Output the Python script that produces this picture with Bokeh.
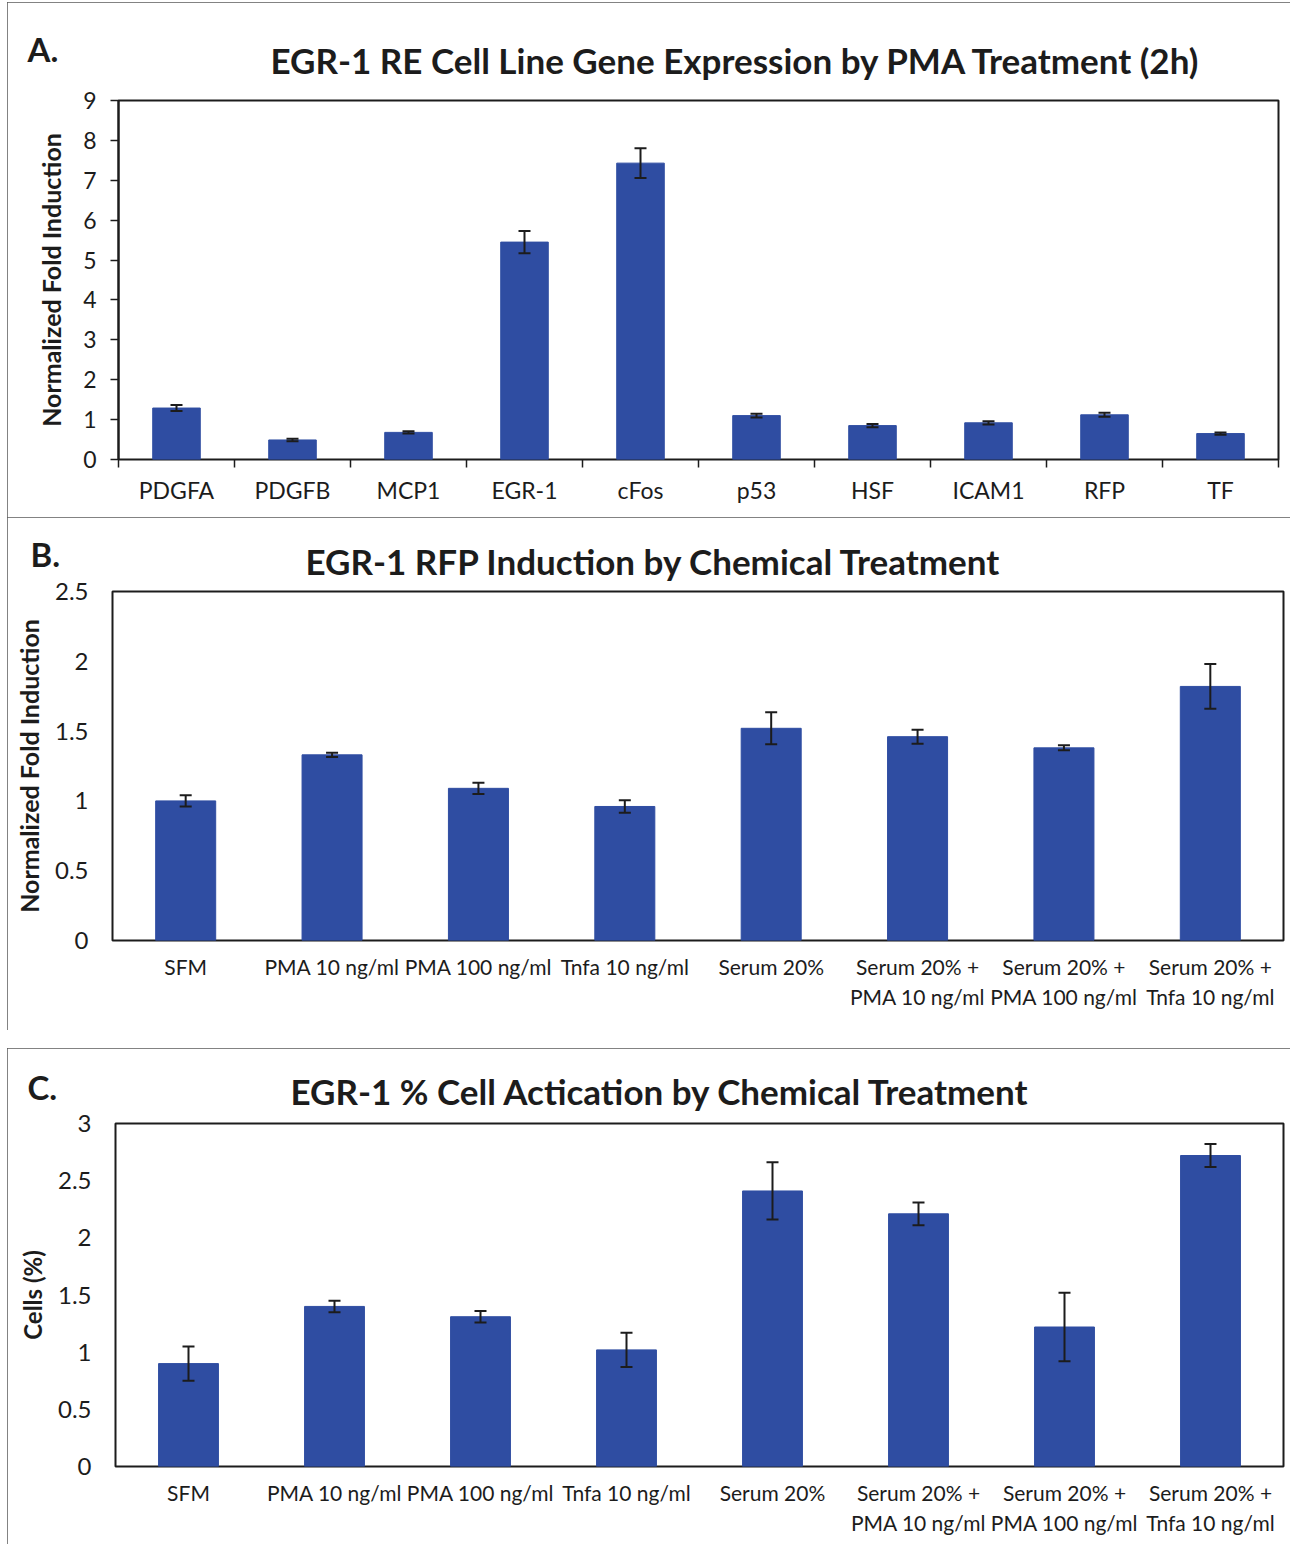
from bokeh.plotting import figure
from bokeh.models import (Range1d, FactorRange, LinearAxis, CategoricalAxis, FixedTicker, Whisker,
                          TeeHead, ColumnDataSource, Title, NumeralTickFormatter,
                          CustomJSTickFormatter, Spacer)
from bokeh.layouts import column, row
from bokeh.embed import file_html
from bokeh.resources import INLINE

# ---------------- data ----------------
genes = ["PDGFA", "PDGFB", "MCP1", "EGR-1", "cFos", "p53", "HSF", "ICAM1", "RFP", "TF"]
gene_fold = [1.29, 0.49, 0.68, 5.45, 7.43, 1.10, 0.85, 0.92, 1.12, 0.65]
gene_err = [0.075, 0.03, 0.03, 0.28, 0.37, 0.05, 0.04, 0.04, 0.05, 0.03]
gene_yticks = [0, 1, 2, 3, 4, 5, 6, 7, 8, 9]

treatments = ["SFM", "PMA 10 ng/ml", "PMA 100 ng/ml", "Tnfa 10 ng/ml", "Serum 20%",
              "Serum 20% +\nPMA 10 ng/ml", "Serum 20% +\nPMA 100 ng/ml", "Serum 20% +\nTnfa 10 ng/ml"]
rfp_fold = [1.00, 1.33, 1.09, 0.96, 1.52, 1.46, 1.38, 1.82]
rfp_err = [0.04, 0.015, 0.04, 0.045, 0.115, 0.05, 0.018, 0.16]
rfp_yticks = [0, 0.5, 1, 1.5, 2, 2.5]

cells_pct = [0.90, 1.40, 1.31, 1.02, 2.41, 2.21, 1.22, 2.72]
cells_err = [0.15, 0.05, 0.05, 0.15, 0.25, 0.10, 0.30, 0.10]
cells_yticks = [0, 0.5, 1, 1.5, 2, 2.5, 3]

title_a = "EGR-1 RE Cell Line Gene Expression  by PMA Treatment (2h)"
title_b = "EGR-1 RFP Induction by  Chemical Treatment"
title_c = "EGR-1 % Cell Actication by Chemical Treatment"

# ---------------- style ----------------
FONT = "Lato"
BAR = "#2F4DA2"
INK = "#1c1c1c"
PANEL_STYLE = {"outline": "2px solid #5a5a5a", "outline-offset": "-2px"}
FIG_W = 1283


def add_bars(p, cats, vals, errs):
    src = ColumnDataSource(dict(cat=cats, val=vals,
                                hi=[v + e for v, e in zip(vals, errs)],
                                lo=[v - e for v, e in zip(vals, errs)]))
    p.vbar(x="cat", top="val", width=0.41, source=src, fill_color=BAR, line_color=BAR)
    head = dict(size=12, line_color=INK, line_width=2)
    w = Whisker(source=src, base="cat", upper="hi", lower="lo", dimension="height",
                line_color=INK, line_width=2,
                upper_head=TeeHead(**head), lower_head=TeeHead(**head))
    w.level = "overlay"
    p.add_layout(w)


def make_title(text, size, offset, standoff):
    t = Title(text=text, align="left", offset=offset, text_font=FONT, text_font_style="bold",
              text_font_size=size, text_color=INK)
    try:
        t.standoff = standoff
    except Exception:
        t.standoff = 0
    return t


def add_texts(p, letter, l_off, l_stand, title, t_off, t_stand):
    p.add_layout(make_title(title, "35px", t_off, t_stand), "above")
    p.add_layout(make_title(letter, "33px", l_off, l_stand), "above")


def base_fig(cats, ymax, h, bl, br, bt, bb):
    p = figure(width=FIG_W, height=h, x_range=FactorRange(factors=cats), y_range=Range1d(0, ymax),
               output_backend="svg", toolbar_location=None, title=None,
               x_axis_location=None, y_axis_location=None,
               min_border_left=bl, min_border_right=br, min_border_top=bt, min_border_bottom=bb)
    for g in p.grid:
        g.visible = False
    p.outline_line_color = INK
    p.outline_line_width = 2
    p.background_fill_color = "white"
    p.border_fill_color = "white"
    p.styles = PANEL_STYLE
    return p


# ---------------- panel A ----------------
pA = base_fig(genes, 9, 515, 111, 12, 98, 58)
# tick marks between categories (boundaries of the factor range)
edge_axis = LinearAxis(ticker=FixedTicker(ticks=list(range(len(genes) + 1))),
                       major_tick_out=8, major_tick_in=0, minor_tick_out=0, minor_tick_in=0,
                       major_tick_line_color=INK, major_tick_line_width=1.5,
                       major_label_text_font_size="0px", major_label_standoff=0,
                       axis_line_color=None,
                       formatter=CustomJSTickFormatter(code="return ''"))
pA.add_layout(edge_axis, "below")
cat_a = CategoricalAxis(major_tick_out=0, major_tick_in=0, axis_line_color=None,
                        major_label_standoff=8, major_label_text_font=FONT,
                        major_label_text_font_size="23px", major_label_text_color=INK)
pA.add_layout(cat_a, "below")
ya = LinearAxis(ticker=FixedTicker(ticks=gene_yticks), formatter=NumeralTickFormatter(format="0.[0]"),
                major_tick_out=8, major_tick_in=0, minor_tick_out=0, minor_tick_in=0,
                major_tick_line_color=INK, major_tick_line_width=1.5,
                axis_line_color=INK, axis_line_width=2,
                major_label_standoff=14, major_label_text_font=FONT,
                major_label_text_font_size="23px", major_label_text_color=INK,
                axis_label="Normalized Fold Induction", axis_label_text_font=FONT,
                axis_label_text_font_style="bold", axis_label_text_font_size="25px",
                axis_label_text_color=INK, axis_label_standoff=14)
pA.add_layout(ya, "left")
add_bars(pA, genes, gene_fold, gene_err)
add_texts(pA, "A.", -91, -102, title_a, 152, 39)


# ---------------- panels B and C ----------------
def treat_fig(vals, errs, yticks, ymax, ylabel, ysize, h, bl, bt, bb):
    p = base_fig(treatments, ymax, h, bl, 7, bt, bb)
    xa = CategoricalAxis(major_tick_out=0, major_tick_in=0, axis_line_color=None,
                         major_label_standoff=13, major_label_text_font=FONT,
                         major_label_text_font_size="21px", major_label_text_color=INK)
    p.add_layout(xa, "below")
    yax = LinearAxis(ticker=FixedTicker(ticks=yticks), formatter=NumeralTickFormatter(format="0.[0]"),
                     major_tick_out=0, major_tick_in=0, minor_tick_out=0, minor_tick_in=0,
                     axis_line_color=None, major_label_standoff=24, major_label_text_font=FONT,
                     major_label_text_font_size="24px", major_label_text_color=INK,
                     axis_label=ylabel, axis_label_text_font=FONT,
                     axis_label_text_font_style="bold", axis_label_text_font_size=ysize,
                     axis_label_text_color=INK, axis_label_standoff=8)
    p.add_layout(yax, "left")
    add_bars(p, treatments, vals, errs)
    return p


pB = treat_fig(rfp_fold, rfp_err, rfp_yticks, 2.5, "Normalized Fold Induction", "25px", 513, 105, 74, 90)
add_texts(pB, "B.", -82, -90, title_b, 193, 19)

pC = treat_fig(cells_pct, cells_err, cells_yticks, 3, "Cells (%)", "24px", 496, 108, 75, 78)
add_texts(pC, "C.", -88, -100, title_c, 175, 23)

layout = column(Spacer(height=2),
                row(Spacer(width=7), pA),
                row(Spacer(width=7), pB),
                Spacer(height=18),
                row(Spacer(width=7), pC))
open("out.html", "w").write(file_html(layout, INLINE))
